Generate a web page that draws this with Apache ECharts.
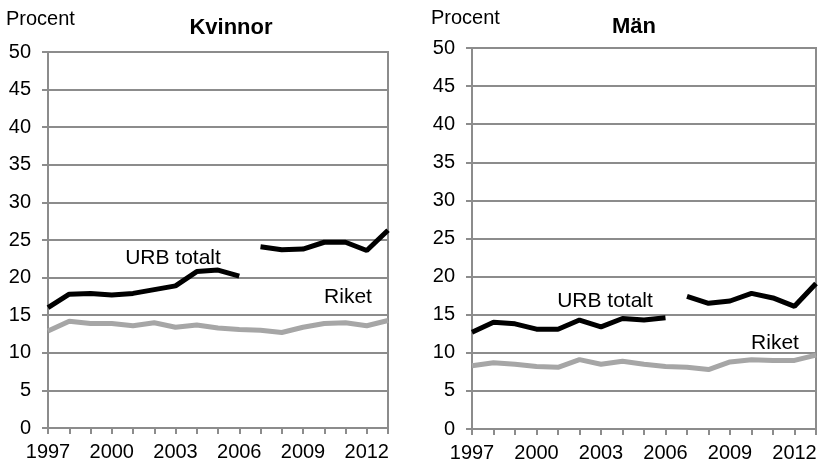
<!DOCTYPE html>
<html>
<head>
<meta charset="utf-8">
<script src="https://cdn.jsdelivr.net/npm/echarts@6/dist/echarts.min.js"></script>
<style>
  html, body { margin: 0; padding: 0; background: #fff; }
  #main { width: 821px; height: 466px; }
</style>
</head>
<body>
<div id="main"></div>
<script>
// år 1997-2013
var years = ['1997','1998','1999','2000','2001','2002','2003','2004','2005','2006','2007','2008','2009','2010','2011','2012','2013'];
// serien bryts mellan 2006 och 2007
var breakIndex = 10;

var urbKvinnor   = [16.0, 17.8, 17.9, 17.7, 17.9, 18.4, 18.9, 20.8, 21.0, 20.2, 24.1, 23.7, 23.8, 24.7, 24.7, 23.6, 26.3];
var riketKvinnor = [12.9, 14.2, 13.9, 13.9, 13.6, 14.0, 13.4, 13.7, 13.3, 13.1, 13.0, 12.7, 13.4, 13.9, 14.0, 13.6, 14.3];
var urbMan       = [12.7, 14.0, 13.8, 13.1, 13.1, 14.3, 13.4, 14.5, 14.3, 14.6, 17.4, 16.5, 16.8, 17.8, 17.2, 16.1, 19.1];
var riketMan     = [8.3, 8.7, 8.5, 8.2, 8.1, 9.1, 8.5, 8.9, 8.5, 8.2, 8.1, 7.8, 8.8, 9.1, 9.0, 9.0, 9.7];

var titles = ['Kvinnor', 'Män'];

var font = '"Liberation Sans", Arial, sans-serif';
var gridGrey = '#8c8c8c';

function part(arr, first) {
  return arr.map(function (v, i) { return (first ? i < breakIndex : i >= breakIndex) ? v : null; });
}

function xAxis(idx) {
  return {
    gridIndex: idx,
    type: 'category',
    data: years,
    boundaryGap: false,
    axisLine: { lineStyle: { color: gridGrey, width: 2 } },
    axisTick: { interval: 0, length: 6, lineStyle: { color: gridGrey, width: 2 } },
    axisLabel: { interval: 2, color: '#000', fontSize: 20, fontFamily: font, margin: 14 },
    splitLine: { show: false }
  };
}

function yAxis(idx) {
  return {
    gridIndex: idx,
    type: 'value',
    min: 0, max: 50, interval: 5,
    axisLine: { show: true, lineStyle: { color: gridGrey, width: 2 } },
    axisTick: { show: true, length: 6, lineStyle: { color: gridGrey, width: 2 } },
    axisLabel: { color: '#000', fontSize: 20, fontFamily: font, margin: 17 },
    splitLine: { lineStyle: { color: gridGrey, width: 2 } }
  };
}

function line(idx, data, color) {
  return {
    type: 'line',
    xAxisIndex: idx, yAxisIndex: idx,
    data: data,
    showSymbol: false,
    connectNulls: false,
    animation: false,
    lineStyle: { color: color, width: 5 }
  };
}

function label(text, x, y, size, bold) {
  return {
    type: 'text', x: x, y: y,
    style: { text: text, fontSize: size, fontWeight: bold ? 'bold' : 'normal', fontFamily: font, fill: '#000', align: 'center', verticalAlign: 'middle' }
  };
}

var option = {
  animation: false,
  grid: [
    { left: 48, right: 433, top: 52, bottom: 38, show: true, borderColor: gridGrey, borderWidth: 2 },
    { left: 472, right: 5, top: 48, bottom: 37, show: true, borderColor: gridGrey, borderWidth: 2 }
  ],
  xAxis: [xAxis(0), xAxis(1)],
  yAxis: [yAxis(0), yAxis(1)],
  series: [
    line(0, riketKvinnor, '#a6a6a6'),
    line(0, part(urbKvinnor, true), '#000'),
    line(0, part(urbKvinnor, false), '#000'),
    line(1, riketMan, '#a6a6a6'),
    line(1, part(urbMan, true), '#000'),
    line(1, part(urbMan, false), '#000')
  ],
  graphic: [
    { type: 'text', left: 6, top: 9, style: { text: 'Procent', fontSize: 20, fontFamily: font, fill: '#000' } },
    { type: 'text', left: 431, top: 8, style: { text: 'Procent', fontSize: 20, fontFamily: font, fill: '#000' } },
    label(titles[0], 231, 28, 22, true),
    label(titles[1], 634, 27, 22, true),
    label('URB totalt', 173, 258, 21),
    label('Riket', 348, 297, 21),
    label('URB totalt', 605, 301, 21),
    label('Riket', 775, 343, 21)
  ]
};

var chart = echarts.init(document.getElementById('main'));
chart.setOption(option);
</script>
</body>
</html>
